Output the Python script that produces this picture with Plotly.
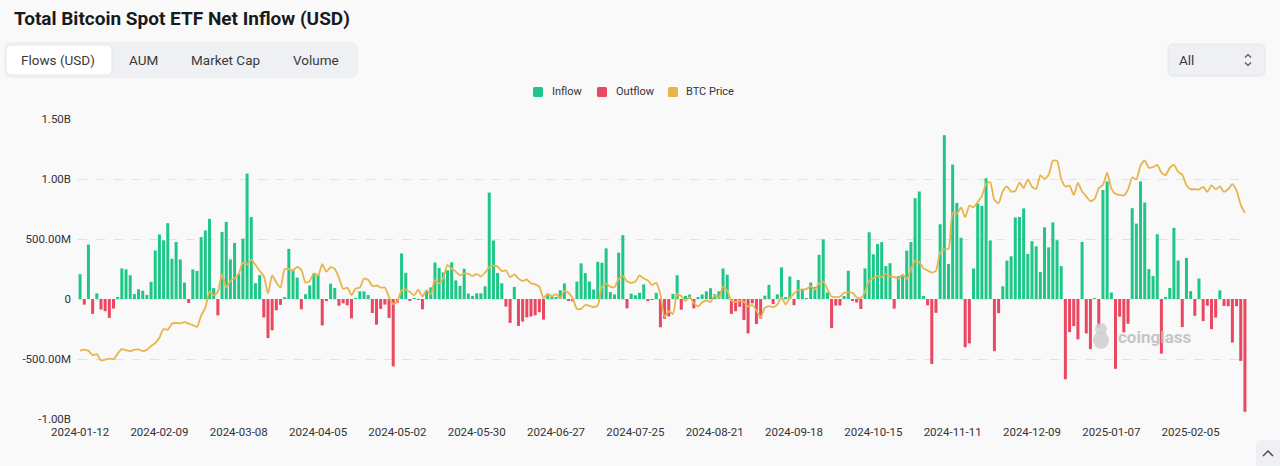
import pandas as pd
import plotly.graph_objects as go

# ---------------- data ----------------
start_date = "2024-01-12"
end_date = "2025-02-25"
market_holidays = ["2024-01-15", "2024-02-19", "2024-03-29", "2024-05-27", "2024-06-19",
                   "2024-07-04", "2024-09-02", "2024-11-28", "2024-12-25", "2025-01-01",
                   "2025-01-09", "2025-01-20", "2025-02-17"]
dates = [d.strftime("%Y-%m-%d") for d in
         pd.bdate_range(start_date, end_date, freq="C", holidays=market_holidays)]

# daily net flow, million USD
net_flow_musd = [
    206, -47, 453, -124, 47, -88, -102, -157, -80, 11,
    255, 247, 198, 41, 82, 69, 33, 143, 404, 538,
    489, 632, 335, 475, 330, 137, -33, 247, 234, 516,
    571, 668, 91, -137, 558, 643, 330, 467, 210, 503,
    1045, 684, 132, 199, -154, -326, -261, -94, -49, 15,
    418, 243, 179, -86, 40, 113, 214, 204, -220, -17,
    128, 92, -56, -36, -53, -161, 4, 64, 64, 33,
    -117, -214, -83, -47, -158, -562, -33, 380, 218, -10,
    6, -8, -86, 75, 97, 304, 259, 221, 239, 306,
    155, 109, 252, 45, 26, 48, 48, 106, 887, 488,
    217, 131, -63, -199, 101, -224, -188, -153, -146, -136,
    -110, -172, 32, 22, 12, 73, 130, -14, -20, 145,
    297, 216, 146, 79, 310, 302, 422, 58, 38, 386,
    532, -78, 44, 31, 52, 122, -18, -3, 52, -236,
    -165, -145, 43, 198, -89, 26, 37, -78, 12, 38,
    64, 90, 40, 64, 254, 202, -124, -102, -65, -174,
    -287, -36, -209, -163, 28, 118, -42, 39, 264, 12,
    187, -52, 158, 80, 4, 137, 100, 368, 497, 55,
    -243, -54, -54, 25, 235, -12, -29, -83, 255, 556,
    373, 458, 474, 274, 298, -80, 190, 195, 403, 475,
    840, 896, 26, -53, -541, -115, 623, 1365, 292, 1120,
    800, 510, -402, -370, 254, 795, 776, 1006, 488, -435,
    -118, 106, 320, 356, 680, 684, 755, 376, 482, 439,
    226, 597, 430, 638, 490, 274, -669, -276, -226, -336,
    476, -287, -418, 5, -238, 908, 980, 54, -582, -147,
    -278, -206, 757, 628, 980, 804, 249, 192, 540, -455,
    14, 92, 593, 320, -234, 342, 66, -140, 170, -184,
    -56, -251, -155, 72, -58, -60, -363, -60, -516, -940,
]

# BTC price, thousand USD
btc_price_k = [
    42.8, 43.1, 42.7, 41.3, 41.6, 39.5, 39.8, 40.1, 39.9, 41.8,
    43.3, 42.9, 42.6, 43.1, 43.2, 42.6, 43.1, 44.3, 45.3, 47.1,
    50.0, 49.7, 51.8, 52.0, 51.9, 52.3, 51.8, 51.3, 50.7, 54.5,
    57.1, 62.5, 61.2, 62.4, 68.3, 63.8, 66.1, 66.9, 68.3, 72.1,
    71.5, 73.1, 71.4, 69.4, 67.6, 61.9, 67.9, 65.5, 63.8, 69.9,
    70.0, 69.5, 70.7, 69.7, 65.4, 66.0, 68.5, 67.8, 71.6, 69.1,
    70.6, 70.0, 67.1, 63.4, 63.8, 61.3, 63.5, 63.8, 66.8, 66.4,
    64.3, 64.5, 63.8, 63.8, 60.6, 58.3, 59.1, 62.9, 63.2, 62.3,
    61.2, 63.1, 60.8, 62.9, 61.6, 66.3, 65.2, 67.0, 71.4, 70.1,
    69.1, 67.9, 68.5, 68.4, 67.6, 68.4, 67.5, 68.8, 70.6, 71.1,
    70.8, 69.3, 69.5, 67.3, 68.2, 66.8, 66.0, 66.5, 65.2, 64.9,
    64.1, 60.3, 61.8, 60.9, 61.6, 60.3, 62.7, 62.0, 60.2, 56.7,
    56.7, 58.0, 57.7, 57.3, 57.9, 64.1, 65.1, 64.1, 63.9, 66.7,
    67.6, 65.9, 65.4, 65.8, 67.9, 66.8, 66.2, 64.6, 65.4, 61.5,
    54.0, 56.0, 55.0, 61.7, 60.9, 59.4, 60.6, 58.7, 57.5, 58.9,
    59.5, 59.0, 61.2, 60.4, 64.1, 62.8, 59.5, 59.0, 59.4, 59.1,
    57.5, 58.0, 56.2, 53.9, 57.0, 57.6, 57.3, 58.1, 60.6, 58.2,
    60.3, 61.8, 62.9, 63.2, 63.3, 64.3, 63.1, 65.2, 65.8, 63.3,
    60.8, 60.6, 60.8, 62.1, 62.2, 62.1, 60.6, 60.3, 62.4, 66.0,
    67.0, 67.6, 67.4, 68.4, 67.4, 67.4, 66.7, 68.2, 66.6, 69.9,
    72.7, 72.3, 70.2, 69.5, 68.8, 69.4, 75.6, 76.5, 76.7, 88.7,
    88.3, 90.5, 87.3, 91.1, 90.6, 92.3, 94.3, 98.3, 98.9, 93.0,
    91.9, 95.9, 97.5, 95.8, 96.0, 98.8, 97.0, 99.9, 97.4, 96.7,
    101.2, 100.0, 101.4, 106.1, 106.1, 100.0, 97.5, 97.8, 94.7, 98.7,
    95.8, 94.2, 92.6, 93.4, 97.0, 98.1, 102.1, 96.9, 95.0, 94.7,
    94.5, 96.5, 100.5, 99.9, 104.5, 106.1, 103.7, 104.0, 104.7, 102.1,
    101.3, 103.7, 104.7, 102.4, 101.4, 97.9, 96.6, 96.6, 96.5, 97.4,
    95.7, 97.9, 96.6, 97.5, 95.7, 96.6, 98.3, 96.1, 91.4, 88.7,
]

y_tick_values = [-1.0e9, -0.5e9, 0, 0.5e9, 1.0e9, 1.5e9]
y_tick_labels = ["-1.00B", "-500.00M", "0", "500.00M", "1.00B", "1.50B"]
x_label_step = 19
tab_labels = ["Flows (USD)", "AUM", "Market Cap", "Volume"]
legend_labels = ["Inflow", "Outflow", "BTC Price"]

assert len(dates) == len(net_flow_musd) == len(btc_price_k) == 280

# ---------------- style ----------------
GREEN = "#1ec787"
RED = "#ea4760"
GOLD = "#e8b44c"
BG = "#f9f9fa"
PANEL = "#eef0f3"
TXT = "#333333"

W, H = 1280, 466
L, R, T, B = 78, 33, 119, 47
PW, PH = W - L - R, H - T - B


def X(px):
    return (px - L) / PW


def Y(py):
    return (T + PH - py) / PH


def rrect(x0, y0, x1, y1, r):
    p = [
        f"M{X(x0 + r)},{Y(y0)}", f"L{X(x1 - r)},{Y(y0)}", f"Q{X(x1)},{Y(y0)} {X(x1)},{Y(y0 + r)}",
        f"L{X(x1)},{Y(y1 - r)}", f"Q{X(x1)},{Y(y1)} {X(x1 - r)},{Y(y1)}",
        f"L{X(x0 + r)},{Y(y1)}", f"Q{X(x0)},{Y(y1)} {X(x0)},{Y(y1 - r)}",
        f"L{X(x0)},{Y(y0 + r)}", f"Q{X(x0)},{Y(y0)} {X(x0 + r)},{Y(y0)}", "Z",
    ]
    return " ".join(p)


def note(text, px, py, xanchor="left", size=11, color=TXT, opacity=1.0):
    return dict(text=text, x=X(px), y=Y(py), xref="paper", yref="paper",
                xanchor=xanchor, yanchor="middle", showarrow=False, opacity=opacity,
                font=dict(family="Roboto", size=size, color=color))


flows = [v * 1e6 for v in net_flow_musd]
inflow = [v if v >= 0 else None for v in flows]
outflow = [v if v < 0 else None for v in flows]
price = [v * 1000 for v in btc_price_k]

fig = go.Figure()
fig.add_trace(go.Bar(x=dates, y=inflow, name="Inflow", marker_color=GREEN,
                     marker_line_width=0, showlegend=False))
fig.add_trace(go.Bar(x=dates, y=outflow, name="Outflow", marker_color=RED,
                     marker_line_width=0, showlegend=False))
fig.add_trace(go.Scatter(x=dates, y=price, name="BTC Price", yaxis="y2", mode="lines",
                         line=dict(color=GOLD, width=1.8, shape="spline", smoothing=0.6),
                         showlegend=False))

shapes = []
annotations = []

# title
annotations.append(note("<b>Total Bitcoin Spot ETF Net Inflow (USD)</b>", 12, 18,
                        size=19, color="#1a1a1a"))
# tabs
shapes.append(dict(type="path", path=rrect(4, 42, 358, 78, 8), xref="paper", yref="paper",
                   fillcolor=PANEL, line=dict(width=0), layer="above"))
shapes.append(dict(type="path", path=rrect(6, 45, 112, 75, 6), xref="paper", yref="paper",
                   fillcolor="#ffffff", line=dict(color="#e6e8ec", width=1), layer="above"))
for lab, cx in zip(tab_labels, [58, 143, 225, 316]):
    annotations.append(note(lab, cx, 60, xanchor="center", size=13.5, color="#3a3a3a"))
# select box
shapes.append(dict(type="path", path=rrect(1168, 44, 1265, 76, 6), xref="paper", yref="paper",
                   fillcolor=PANEL, line=dict(color="#e3e6ea", width=1), layer="above"))
annotations.append(note("All", 1177, 60, size=13.5, color="#3a3a3a"))
shapes.append(dict(type="path", xref="paper", yref="paper", layer="above",
                   path=f"M{X(1245)},{Y(57.5)} L{X(1248)},{Y(54.5)} L{X(1251)},{Y(57.5)}",
                   line=dict(color="#555", width=1.2)))
shapes.append(dict(type="path", xref="paper", yref="paper", layer="above",
                   path=f"M{X(1245)},{Y(62.5)} L{X(1248)},{Y(65.5)} L{X(1251)},{Y(62.5)}",
                   line=dict(color="#555", width=1.2)))
# legend (manual)
for lab, col, sx, tx in zip(legend_labels, [GREEN, RED, GOLD], [533, 597, 668], [550, 614, 684]):
    shapes.append(dict(type="path", path=rrect(sx, 87, sx + 10, 97, 1.5), xref="paper", yref="paper",
                       fillcolor=col, line=dict(width=0), layer="above"))
    annotations.append(note(lab, tx, 92, size=11, color=TXT))
# watermark
shapes.append(dict(type="circle", xref="paper", yref="paper", x0=X(1093), x1=X(1109),
                   y0=Y(349), y1=Y(331), fillcolor="#cfcfcf", line=dict(width=0), opacity=0.85))
shapes.append(dict(type="circle", xref="paper", yref="paper", x0=X(1095), x1=X(1107),
                   y0=Y(335), y1=Y(323), fillcolor="#cfcfcf", line=dict(width=0), opacity=0.85))
annotations.append(note("<b>coinglass</b>", 1116, 337, size=17, color="#bdbdbd", opacity=0.85))
# scroll-to-top button
shapes.append(dict(type="path", path=rrect(1256, 440, 1284, 470, 5), xref="paper", yref="paper",
                   fillcolor=PANEL, line=dict(width=0), layer="above"))
shapes.append(dict(type="path", xref="paper", yref="paper", layer="above",
                   path=f"M{X(1263)},{Y(456)} L{X(1268)},{Y(451)} L{X(1273)},{Y(456)}",
                   line=dict(color="#444", width=1.4)))

fig.update_layout(
    width=W, height=H,
    margin=dict(l=L, r=R, t=T, b=B, pad=0),
    paper_bgcolor=BG, plot_bgcolor=BG,
    barmode="relative", bargap=0.28,
    font=dict(family="Roboto", size=11.5, color=TXT),
    shapes=shapes, annotations=annotations,
    xaxis=dict(type="category", categoryorder="array", categoryarray=dates,
               tickmode="array", tickvals=dates[::x_label_step], ticktext=dates[::x_label_step],
               tickangle=0, showgrid=False, showline=False, zeroline=False, ticks="",
               tickfont=dict(family="Roboto", size=11.5, color=TXT), ticklabelstandoff=4),
    yaxis=dict(range=[-1.0e9, 1.5e9], tickmode="array", tickvals=y_tick_values,
               ticktext=y_tick_labels, showgrid=True, gridcolor="#e2e2e2", griddash="dash",
               gridwidth=1, zeroline=False, showline=False, ticks="",
               tickfont=dict(family="Roboto", size=11.5, color=TXT), ticklabelstandoff=6),
    yaxis2=dict(range=[20000, 120000], overlaying="y", side="right", visible=False,
                showgrid=False),
    hovermode="x unified",
)

fig.write_html("out.html", config={"displayModeBar": False},
               post_script="document.body.style.margin='0';document.body.style.overflow='hidden';")
